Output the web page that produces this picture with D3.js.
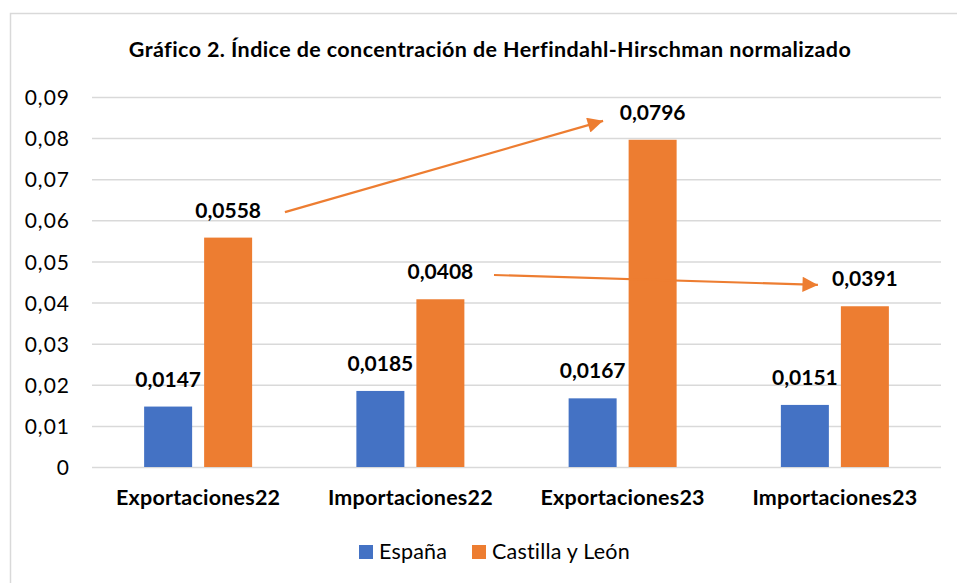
<!DOCTYPE html>
<html>
<head>
<meta charset="utf-8">
<script src="https://cdn.jsdelivr.net/npm/d3@7"></script>
<style>
  html, body { margin: 0; padding: 0; background: #fff; }
  svg { display: block; font-family: Lato, "Open Sans", sans-serif; }
</style>
</head>
<body>
<svg id="chart" width="957" height="583"></svg>
<script>
// ---- data ----
const categories = ["Exportaciones22", "Importaciones22", "Exportaciones23", "Importaciones23"];
const seriesNames = ["España", "Castilla y León"];
const espana = [0.0147, 0.0185, 0.0167, 0.0151];
const castilla = [0.0558, 0.0408, 0.0796, 0.0391];
const yTicks = [0, 0.01, 0.02, 0.03, 0.04, 0.05, 0.06, 0.07, 0.08, 0.09];
const title = "Gráfico 2. Índice de concentración de Herfindahl-Hirschman normalizado";
// annotation arrows, in (category-position, value) space
const arrows = [
  { from: [0.909, 0.0620], to: [2.408, 0.0842] },
  { from: [1.894, 0.0467], to: [3.420, 0.0443] }
];
const colors = ["#4472C4", "#ED7D31"];

const svg = d3.select("#chart");
const plot = { left: 92, right: 941, top: 97, bottom: 467 };

// chart border
svg.append("rect").attr("x", 10.5).attr("y", 13.5).attr("width", 960).attr("height", 600)
  .attr("fill", "#fff").attr("stroke", "#d9d9d9").attr("stroke-width", 1.5);

const y = d3.scaleLinear().domain([0, 0.09]).range([plot.bottom, plot.top]);
const x0 = d3.scaleBand().domain(categories).range([plot.left, plot.right]).paddingInner(0).paddingOuter(0);
const x1 = d3.scaleBand().domain(seriesNames).range([x0.bandwidth() / 2 - 54, x0.bandwidth() / 2 + 54]).paddingInner(0.2).paddingOuter(0);
const xc = d3.scaleLinear().domain([0, categories.length]).range([plot.left, plot.right]);
const fmt = v => String(v).replace(".", ",");

// gridlines + tick labels
const yAxis = d3.axisLeft(y).tickValues(yTicks).tickSize(-(plot.right - plot.left)).tickPadding(22)
  .tickFormat(d => d === 0 ? "0" : d3.format(".2f")(d).replace(".", ","));
const gy = svg.append("g").attr("transform", `translate(${plot.left},0)`).call(yAxis);
gy.select(".domain").remove();
gy.selectAll(".tick line").attr("stroke", "#d9d9d9").attr("stroke-width", 1.5);
gy.selectAll(".tick text").attr("fill", "#000").attr("font-size", 21).attr("letter-spacing", 1)
  .attr("font-family", "Lato, sans-serif").attr("dy", "0.36em");

// bars
const series = [espana, castilla];
const groups = svg.append("g");
series.forEach((vals, si) => {
  groups.selectAll(null).data(vals).enter().append("rect")
    .attr("x", (d, i) => x0(categories[i]) + x1(seriesNames[si]))
    .attr("y", d => y(d))
    .attr("width", x1.bandwidth())
    .attr("height", d => y(0) - y(d))
    .attr("fill", colors[si]);
  groups.selectAll(null).data(vals).enter().append("text")
    .attr("x", (d, i) => x0(categories[i]) + x1(seriesNames[si]) + x1.bandwidth() / 2)
    .attr("y", d => y(d) - 20)
    .attr("text-anchor", "middle")
    .attr("font-weight", "bold").attr("font-size", 21)
    .text(d => fmt(d));
});

// category axis labels
svg.append("g").selectAll("text").data(categories).enter().append("text")
  .attr("x", d => x0(d) + x0.bandwidth() / 2)
  .attr("y", 505)
  .attr("text-anchor", "middle").attr("font-weight", "bold").attr("font-size", 21.5)
  .attr("letter-spacing", 0.2)
  .text(d => d);

// title
svg.append("text").attr("x", 490).attr("y", 57).attr("text-anchor", "middle")
  .attr("font-weight", "bold").attr("font-size", 21.5).attr("letter-spacing", 0.4).text(title);

// arrows
const defs = svg.append("defs");
defs.append("marker").attr("id", "ah").attr("viewBox", "0 0 10 10").attr("refX", 10).attr("refY", 5)
  .attr("markerWidth", 8).attr("markerHeight", 7).attr("markerUnits", "strokeWidth").attr("orient", "auto")
  .append("path").attr("d", "M0,0 L10,5 L0,10 Z").attr("fill", colors[1]);
svg.append("g").selectAll("line").data(arrows).enter().append("line")
  .attr("x1", d => xc(d.from[0])).attr("y1", d => y(d.from[1]))
  .attr("x2", d => xc(d.to[0])).attr("y2", d => y(d.to[1]))
  .attr("stroke", colors[1]).attr("stroke-width", 2.2).attr("marker-end", "url(#ah)");

// legend
const legend = svg.append("g").attr("transform", "translate(359,545)");
const legX = [0, 113];
seriesNames.forEach((n, i) => {
  const g = legend.append("g").attr("transform", `translate(${legX[i]},0)`);
  g.append("rect").attr("width", 14).attr("height", 14).attr("fill", colors[i]);
  g.append("text").attr("x", 20).attr("y", 13.5).attr("font-size", 21.5).attr("letter-spacing", 0.2).text(n);
});
</script>
</body>
</html>
